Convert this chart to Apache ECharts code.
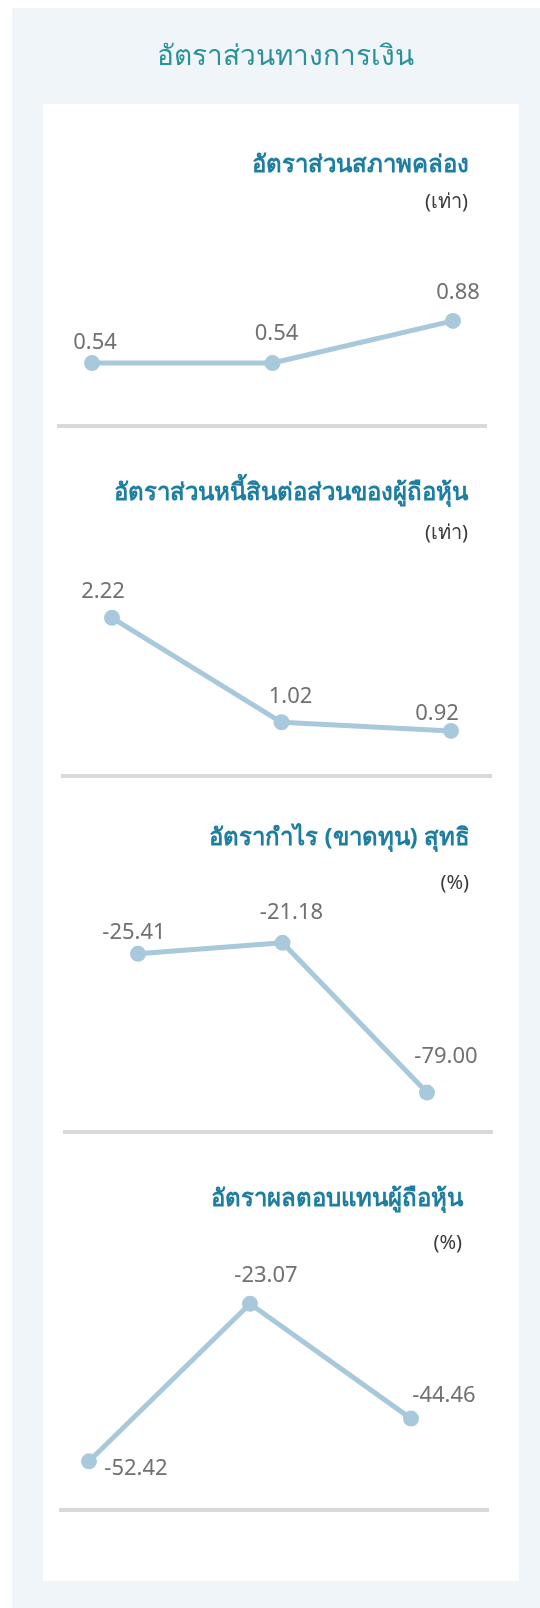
<!DOCTYPE html>
<html>
<head>
<meta charset="utf-8">
<script src="https://cdn.jsdelivr.net/npm/echarts@6/dist/echarts.min.js"></script>
<style>
  html, body { margin: 0; padding: 0; background: #ffffff; }
  #ratios { width: 540px; height: 1608px; }
</style>
</head>
<body>
<div id="ratios"></div>
<script>
// periods are not printed on the chart
var periods = ['ปี 1', 'ปี 2', 'ปี 3'];

var currentRatio = [0.54, 0.54, 0.88];
var debtToEquity = [2.22, 1.02, 0.92];
var netProfitMargin = [-25.41, -21.18, -79.00];
var returnOnEquity = [-52.42, -23.07, -44.46];

var titles = ['อัตราส่วนสภาพคล่อง', 'อัตราส่วนหนี้สินต่อส่วนของผู้ถือหุ้น', 'อัตรากำไร (ขาดทุน) สุทธิ', 'อัตราผลตอบแทนผู้ถือหุ้น'];
var units = ['(เท่า)', '(เท่า)', '(%)', '(%)'];

var lineColor = '#a8c9dc';
var labelColor = '#707070';
var font = '"Noto Sans", sans-serif';

// layout of each small chart
var panels = [
    { values: currentRatio, grid: { left: 92, right: 87, top: 306, height: 124 }, min: 0, max: 1,
      titleY: 165, titleRight: 469, unitY: 202, unitRight: 468, sepY: 426, sepX: [57, 487],
      offsets: [[3, -20], [4, -29], [5, -28]] },
    { values: debtToEquity, grid: { left: 112, right: 89, top: 550, height: 261 }, min: 0, max: 3,
      titleY: 493, titleRight: 468, unitY: 533, unitRight: 468, sepY: 776, sepX: [61, 492],
      offsets: [[-9, -26], [9, -26], [-14, -17]] },
    { values: netProfitMargin, grid: { left: 138, right: 113, top: 888, height: 259 }, min: -100, max: 0,
      titleY: 838, titleRight: 470, unitY: 883, unitRight: 469, sepY: 1132, sepX: [63, 493],
      offsets: [[-4, -21], [9, -30], [19, -36]] },
    { values: returnOnEquity, grid: { left: 89, right: 129, top: 1180, height: 322 }, min: -60, max: 0,
      titleY: 1199, titleRight: 463, unitY: 1243, unitRight: 462, sepY: 1510, sepX: [59, 489],
      offsets: [[47, 7], [16, -28], [33, -23]] }
];

var chart = echarts.init(document.getElementById('ratios'));

var graphics = [
    { type: 'rect', shape: { x: 12, y: 8, width: 528, height: 1600 }, style: { fill: '#eff5f8' }, z: -10 },
    { type: 'rect', shape: { x: 43, y: 104, width: 476, height: 1477 }, style: { fill: '#ffffff' }, z: -9 },
    { type: 'text', x: 285, y: 57,
      style: { text: 'อัตราส่วนทางการเงิน', fill: '#2a9199', font: 'normal 28px ' + font, textAlign: 'center', textVerticalAlign: 'middle' } }
];
var grids = [], xAxes = [], yAxes = [], series = [];

panels.forEach(function (p, i) {
    graphics.push({ type: 'text', x: p.titleRight, y: p.titleY,
        style: { text: titles[i], fill: '#1e7ea1', font: 'bold 24px ' + font, textAlign: 'right', textVerticalAlign: 'middle' } });
    graphics.push({ type: 'text', x: p.unitRight, y: p.unitY,
        style: { text: units[i], fill: '#3a3a3a', font: 'normal 20px ' + font, textAlign: 'right', textVerticalAlign: 'middle' } });
    graphics.push({ type: 'line', shape: { x1: p.sepX[0], y1: p.sepY, x2: p.sepX[1], y2: p.sepY },
        style: { stroke: '#d9d9d9', lineWidth: 4 } });

    grids.push(p.grid);
    xAxes.push({ type: 'category', gridIndex: i, data: periods, boundaryGap: false, show: false });
    yAxes.push({ type: 'value', gridIndex: i, min: p.min, max: p.max, show: false });
    series.push({
        type: 'line',
        xAxisIndex: i,
        yAxisIndex: i,
        symbol: 'circle',
        symbolSize: 16,
        lineStyle: { color: lineColor, width: 5 },
        itemStyle: { color: lineColor },
        data: p.values.map(function (v, j) {
            return { value: v, label: { offset: p.offsets[j] } };
        }),
        label: {
            show: true,
            position: 'inside',
            color: labelColor,
            fontSize: 22,
            fontFamily: font,
            formatter: function (d) { return d.value.toFixed(2); }
        },
        animation: false
    });
});

chart.setOption({
    animation: false,
    graphic: graphics,
    grid: grids,
    xAxis: xAxes,
    yAxis: yAxes,
    series: series
});
</script>
</body>
</html>
